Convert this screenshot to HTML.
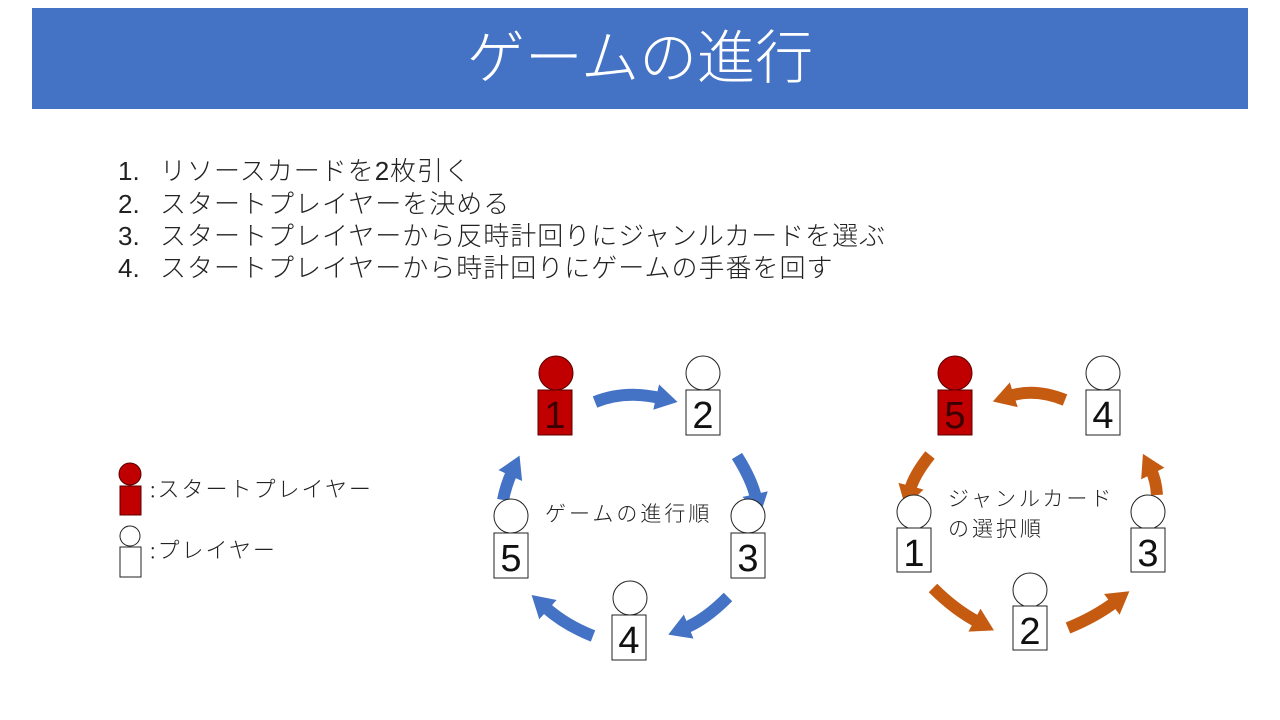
<!DOCTYPE html>
<html><head><meta charset="utf-8"><style>
html,body{margin:0;padding:0;background:#fff;}
svg{display:block;}
text{font-family:"Liberation Sans","Noto Sans CJK JP",sans-serif;}
.j{font-family:"Noto Sans CJK JP","Liberation Sans",sans-serif;font-weight:300;}
</style></head><body>
<svg width="1280" height="720" viewBox="0 0 1280 720" xmlns="http://www.w3.org/2000/svg">
<defs>
<marker id="hb" markerUnits="userSpaceOnUse" markerWidth="30" markerHeight="30" refX="4" refY="15" orient="auto"><path d="M0,2 L22,15 L0,28 Z" fill="#4472C4"/></marker>
<marker id="ho" markerUnits="userSpaceOnUse" markerWidth="30" markerHeight="30" refX="4" refY="15" orient="auto"><path d="M0,2 L22,15 L0,28 Z" fill="#C55A11"/></marker>
</defs>
<rect x="32" y="8" width="1216" height="101" fill="#4472C4"/>
<text x="640" y="78" text-anchor="middle" font-size="58" fill="#fff" class="j">ゲームの進行</text>

<g font-size="26" fill="#222" class="j">
<text x="118" y="180">1.</text><text x="160" y="180" letter-spacing="1">リソースカードを2枚引く</text>
<text x="118" y="213">2.</text><text x="160" y="213" letter-spacing="1">スタートプレイヤーを決める</text>
<text x="118" y="245">3.</text><text x="160" y="245" letter-spacing="1">スタートプレイヤーから反時計回りにジャンルカードを選ぶ</text>
<text x="118" y="277">4.</text><text x="160" y="277" letter-spacing="1">スタートプレイヤーから時計回りにゲームの手番を回す</text>
</g>

<!-- legend -->
<circle cx="130" cy="474" r="11" fill="#C00000" stroke="#5a0000" stroke-width="1"/>
<rect x="120" y="486" width="21" height="29" fill="#C00000" stroke="#5a0000" stroke-width="1"/>
<text x="150" y="497" font-size="22" fill="#222" class="j" letter-spacing="2">:スタートプレイヤー</text>
<circle cx="130" cy="536" r="10" fill="#fff" stroke="#222" stroke-width="1"/>
<rect x="120" y="547" width="21" height="30" fill="#fff" stroke="#222" stroke-width="1"/>
<text x="150" y="558" font-size="22" fill="#222" class="j" letter-spacing="2">:プレイヤー</text>

<!-- left arrows -->
<g fill="none" stroke="#4472C4" stroke-width="12">
<path d="M595,402 Q625,390 660,398" marker-end="url(#hb)"/>
<path d="M737,456 Q752,480 756,498" marker-end="url(#hb)"/>
<path d="M728,597 Q705,620 685,628" marker-end="url(#hb)"/>
<path d="M593,636 Q565,625 545,607" marker-end="url(#hb)"/>
<path d="M503,500 Q506,485 512,472" marker-end="url(#hb)"/>
</g>
<!-- right arrows -->
<g fill="none" stroke="#C55A11" stroke-width="12">
<path d="M1065,400 Q1035,388 1010,396" marker-end="url(#ho)"/>
<path d="M930,455 Q914,475 910,490" marker-end="url(#ho)"/>
<path d="M933,588 Q955,610 978,622" marker-end="url(#ho)"/>
<path d="M1068,628 Q1095,617 1115,602" marker-end="url(#ho)"/>
<path d="M1157,495 Q1156,480 1151,470" marker-end="url(#ho)"/>
</g>

<g font-size="38" class="j" text-anchor="middle" fill="#111">
<circle cx="556" cy="373" r="17" fill="#C00000" stroke="#5a0000"/>
<rect x="538" y="390" width="34" height="45" fill="#C00000" stroke="#5a0000"/>
<text x="555" y="428" fill="#3a0000">1</text>
<circle cx="703" cy="373" r="17" fill="#fff" stroke="#222"/>
<rect x="686" y="390" width="34" height="45" fill="#fff" stroke="#222"/>
<text x="703" y="428">2</text>
<circle cx="748" cy="516" r="17" fill="#fff" stroke="#222"/>
<rect x="731" y="533" width="34" height="45" fill="#fff" stroke="#222"/>
<text x="748" y="571">3</text>
<circle cx="511" cy="516" r="17" fill="#fff" stroke="#222"/>
<rect x="494" y="533" width="34" height="45" fill="#fff" stroke="#222"/>
<text x="511" y="571">5</text>
<circle cx="630" cy="598" r="17" fill="#fff" stroke="#222"/>
<rect x="612" y="615" width="34" height="45" fill="#fff" stroke="#222"/>
<text x="629" y="653">4</text>
<circle cx="955" cy="373" r="17" fill="#C00000" stroke="#5a0000"/>
<rect x="938" y="390" width="34" height="45" fill="#C00000" stroke="#5a0000"/>
<text x="955" y="428" fill="#3a0000">5</text>
<circle cx="1103" cy="373" r="17" fill="#fff" stroke="#222"/>
<rect x="1086" y="390" width="34" height="45" fill="#fff" stroke="#222"/>
<text x="1103" y="428">4</text>
<circle cx="914" cy="512" r="17" fill="#fff" stroke="#222"/>
<rect x="897" y="528" width="34" height="44" fill="#fff" stroke="#222"/>
<text x="914" y="566">1</text>
<circle cx="1148" cy="512" r="17" fill="#fff" stroke="#222"/>
<rect x="1131" y="528" width="34" height="44" fill="#fff" stroke="#222"/>
<text x="1148" y="566">3</text>
<circle cx="1030" cy="590" r="17" fill="#fff" stroke="#222"/>
<rect x="1013" y="606" width="34" height="44" fill="#fff" stroke="#222"/>
<text x="1030" y="644">2</text>
</g>

<g font-size="21" fill="#222" class="j" letter-spacing="3">
<text x="545" y="521">ゲームの進行順</text>
<text x="948" y="506">ジャンルカード</text>
<text x="948" y="536">の選択順</text>
</g>
</svg>
</body></html>
